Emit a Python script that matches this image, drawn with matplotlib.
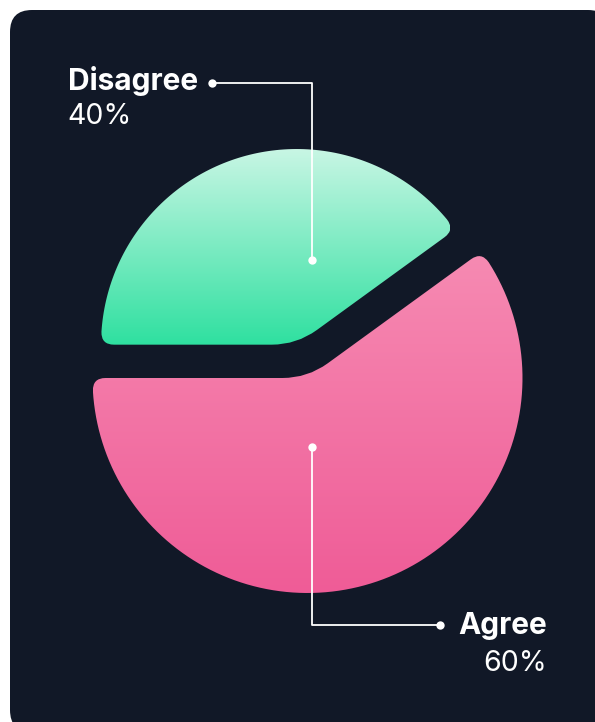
import numpy as np
import matplotlib
matplotlib.use("Agg")
import matplotlib.pyplot as plt
from matplotlib.path import Path
from matplotlib.patches import PathPatch, FancyBboxPatch
from matplotlib.colors import LinearSegmentedColormap

plt.rcParams['font.family'] = ['Inter', 'DejaVu Sans']

# data
labels = ['Disagree', 'Agree']
values = [40, 60]
pct_labels = ['40%', '60%']

# gradient colours (top, bottom)
grads = [('#c8f6e4', '#2fe0a0'), ('#f68ab2', '#ef5c97')]
BG = '#111827'

W, H = 595, 722
fig = plt.figure(figsize=(W / 100, H / 100), dpi=100)
fig.patch.set_facecolor('white')
ax = fig.add_axes([0, 0, 1, 1])

# dark card
card = FancyBboxPatch((10, -10), 600, 722, boxstyle="round,pad=0,rounding_size=22",
                      fc=BG, ec='none', zorder=0)
ax.add_patch(card)

# pie geometry from matplotlib, unit radius
wedges, _ = ax.pie(values, startangle=180, counterclock=False,
                   explode=[0.163, 0], radius=1)

# map unit pie onto pixel layout
SCALE = 215.0
CX, CY = 307.5, 344.0
radius_scale = [0.91, 1.0]


def rounded_wedge(c, r, t1, t2, dc, do):
    c = np.asarray(c)
    a1, a2 = np.radians(t1), np.radians(t2)
    u1 = np.array([np.cos(a1), np.sin(a1)])
    u2 = np.array([np.cos(a2), np.sin(a2)])
    d = do / r
    verts, codes = [], []
    verts.append(c + dc * u1); codes.append(Path.MOVETO)
    verts.append(c + (r - do) * u1); codes.append(Path.LINETO)
    verts += [c + r * u1, c + r * np.array([np.cos(a1 + d), np.sin(a1 + d)])]
    codes += [Path.CURVE3, Path.CURVE3]
    for a in np.linspace(a1 + d, a2 - d, 120)[1:]:
        verts.append(c + r * np.array([np.cos(a), np.sin(a)]))
        codes.append(Path.LINETO)
    verts += [c + r * u2, c + (r - do) * u2]
    codes += [Path.CURVE3, Path.CURVE3]
    verts.append(c + dc * u2); codes.append(Path.LINETO)
    verts += [c, c + dc * u1]
    codes += [Path.CURVE3, Path.CURVE3]
    verts.append(c + dc * u1); codes.append(Path.CLOSEPOLY)
    return Path(np.array(verts), codes)


for w, (top, bot), rs in zip(wedges, grads, radius_scale):
    w.set_visible(False)
    cx = CX + SCALE * w.center[0]
    cy = CY + SCALE * w.center[1]
    r = SCALE * w.r * rs
    path = rounded_wedge((cx, cy), r, w.theta1, w.theta2, 25, 13)
    patch = PathPatch(path, fc='none', ec='none', zorder=2)
    ax.add_patch(patch)
    ext = path.get_extents()
    cmap = LinearSegmentedColormap.from_list('g', [bot, top])
    grad = np.linspace(0, 1, 256).reshape(-1, 1)
    im = ax.imshow(grad, cmap=cmap, aspect='auto', origin='lower',
                   extent=[ext.x0, ext.x1, ext.y0, ext.y1], zorder=2,
                   interpolation='bilinear')
    im.set_clip_path(patch)

# leader lines
ax.plot([212, 312, 312], [639, 639, 462], color='white', lw=1.3, zorder=3)
ax.plot([212, 312], [639, 462], 'o', color='white', ms=6, mew=0, zorder=3)
ax.plot([312, 312, 440], [275, 97, 97], color='white', lw=1.3, zorder=3)
ax.plot([312, 440], [275, 97], 'o', color='white', ms=6, mew=0, zorder=3)

# labels
ax.text(68, 632, labels[0], color='white', fontsize=21.5, fontweight='bold',
        ha='left', va='baseline', zorder=4)
ax.text(67, 598, pct_labels[0], color='white', fontsize=20.5, fontweight='normal',
        ha='left', va='baseline', zorder=4)
ax.text(547, 88, labels[1], color='white', fontsize=21.5, fontweight='bold',
        ha='right', va='baseline', zorder=4)
ax.text(547, 51, pct_labels[1], color='white', fontsize=20.5, fontweight='normal',
        ha='right', va='baseline', zorder=4)

ax.set_xlim(0, W)
ax.set_ylim(0, H)
ax.set_aspect('auto')
ax.axis('off')

fig.savefig('out.png', dpi=100, facecolor='white')
